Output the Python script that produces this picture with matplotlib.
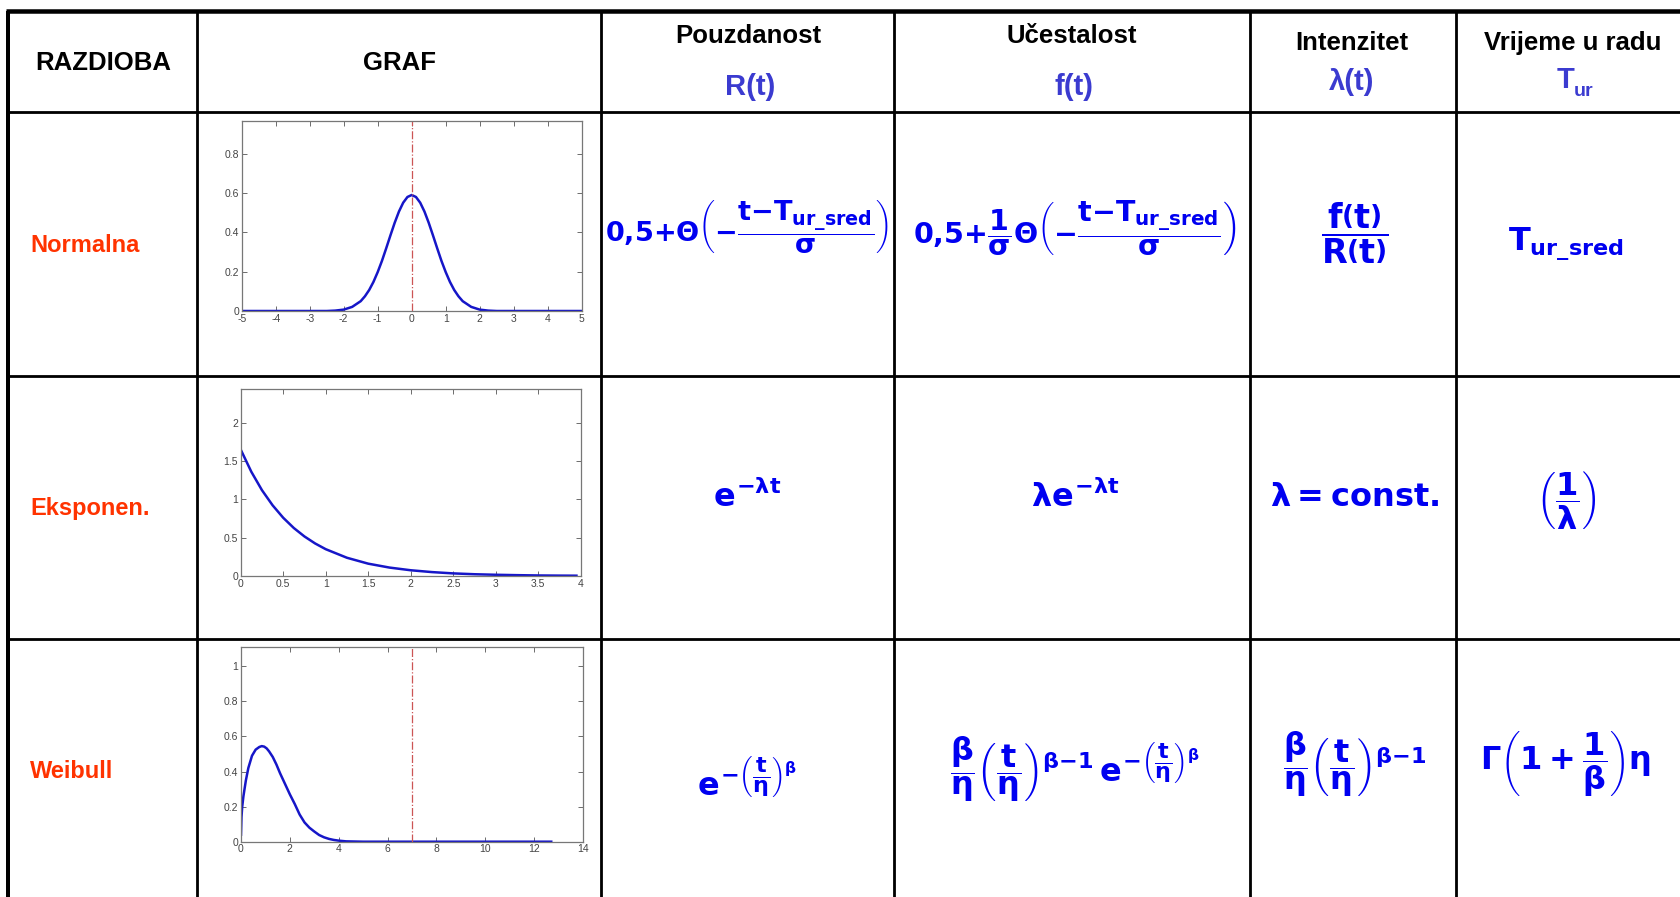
import matplotlib
matplotlib.use("Agg")
import matplotlib.pyplot as plt

plt.rcParams["mathtext.fontset"] = "custom"
plt.rcParams["mathtext.rm"] = "DejaVu Sans:bold"
plt.rcParams["mathtext.it"] = "DejaVu Sans:bold"
plt.rcParams["mathtext.bf"] = "DejaVu Sans:bold"
plt.rcParams["mathtext.sf"] = "DejaVu Sans:bold"

W, H = 1680, 897

# ---- table content -------------------------------------------------------
header_titles = ["RAZDIOBA", "GRAF", "Pouzdanost", "Učestalost", "Intenzitet", "Vrijeme u radu"]
header_symbols = ["R(t)", "f(t)", "λ(t)"]
row_labels = ["Normalna", "Eksponen.", "Weibull"]

formulas = [
    [r"$0{,}5{+}\Theta\left({-}\dfrac{t{-}T_{ur\_sred}}{\sigma}\right)$",
     r"$0{,}5{+}\dfrac{1}{\sigma}\Theta\left({-}\dfrac{t{-}T_{ur\_sred}}{\sigma}\right)$",
     r"$\dfrac{f\left(t\right)}{R\left(t\right)}$",
     r"$T_{ur\_sred}$"],
    [r"$e^{{-}\lambda t}$",
     r"$\lambda e^{{-}\lambda t}$",
     r"$\lambda = \mathrm{const.}$",
     r"$\left(\dfrac{1}{\lambda}\right)$"],
    [r"$e^{{-}\left(\dfrac{t}{\eta}\right)^{\beta}}$",
     r"$\dfrac{\beta}{\eta}\left(\dfrac{t}{\eta}\right)^{\beta{-}1}\,e^{{-}\left(\dfrac{t}{\eta}\right)^{\beta}}$",
     r"$\dfrac{\beta}{\eta}\left(\dfrac{t}{\eta}\right)^{\beta{-}1}$",
     r"$\Gamma\left(1+\dfrac{1}{\beta}\right)\eta$"],
]

# ---- small density plots -------------------------------------------------
normal_t = [-5.0, -3.0, -2.5, -2.25, -2.0, -1.75, -1.5, -1.375, -1.25, -1.125, -1.0,
            -0.875, -0.75, -0.625, -0.5, -0.375, -0.25, -0.125, 0.0, 0.125, 0.25, 0.375,
            0.5, 0.625, 0.75, 0.875, 1.0, 1.125, 1.25, 1.375, 1.5, 1.75, 2.0, 2.25, 2.5,
            3.0, 5.0]
normal_pdf = [0.0, 0.0, 0.0, 0.002, 0.007, 0.021, 0.050, 0.075, 0.107, 0.148, 0.198,
              0.255, 0.319, 0.385, 0.449, 0.506, 0.551, 0.580, 0.590, 0.580, 0.551, 0.506,
              0.449, 0.385, 0.319, 0.255, 0.198, 0.148, 0.107, 0.075, 0.050, 0.021, 0.007,
              0.002, 0.0, 0.0, 0.0]
normal_mean = 0.0

exp_t = [0.0, 0.125, 0.25, 0.375, 0.5, 0.625, 0.75, 0.875, 1.0, 1.25, 1.5, 1.75,
         2.0, 2.25, 2.5, 2.75, 3.0, 3.25, 3.5, 3.75, 3.95]
exp_pdf = [1.65, 1.36, 1.12, 0.923, 0.76, 0.626, 0.516, 0.425, 0.35, 0.238, 0.161, 0.110,
           0.075, 0.051, 0.034, 0.023, 0.016, 0.011, 0.007, 0.005, 0.004]

weibull_t = [0.0, 0.02, 0.05, 0.1, 0.2, 0.3, 0.45, 0.6, 0.75, 0.85, 0.95, 1.05, 1.15,
             1.3, 1.45, 1.6, 1.8, 2.0, 2.2, 2.4, 2.6, 2.8, 3.0, 3.2, 3.4, 3.6, 3.8, 4.0,
             4.3, 5.0, 6.0, 8.0, 10.0, 12.0, 12.7]
weibull_pdf = [0.04, 0.14, 0.20, 0.26, 0.35, 0.42, 0.49, 0.525, 0.54, 0.545, 0.542, 0.532,
               0.515, 0.483, 0.44, 0.39, 0.33, 0.27, 0.215, 0.155, 0.11, 0.08, 0.058, 0.038,
               0.025, 0.016, 0.010, 0.006, 0.002, 0.0, 0.0, 0.0, 0.0, 0.0, 0.0]
weibull_mark = 7.0

normal_xticks = [-5, -4, -3, -2, -1, 0, 1, 2, 3, 4, 5]
normal_yticks = [0, 0.2, 0.4, 0.6, 0.8]
exp_xticks = [0, 0.5, 1, 1.5, 2, 2.5, 3, 3.5, 4]
exp_yticks = [0, 0.5, 1, 1.5, 2]
weibull_xticks = [0, 2, 4, 6, 8, 10, 12, 14]
weibull_yticks = [0, 0.2, 0.4, 0.6, 0.8, 1]

# ---- layout (pixels) -----------------------------------------------------
col_x = [8, 197, 600.5, 894, 1250, 1455.5]
row_y = [11.5, 112, 376, 639]
row_centres = [245, 509, 771]
cell_centres_x = [747, 1075, 1355, 1566]
formula_y = [[228, 228, 233, 244], [497, 497, 497, 500], [780, 769, 764, 764]]
formula_size = [[19.5, 20.5, 24, 23], [23, 23, 23, 23], [23, 23, 23, 23]]

BLUE = "#0000f0"
HEAD_BLUE = "#3b3bd0"
RED = "#ff3300"
PT = 0.72  # points per pixel at 100 dpi

fig = plt.figure(figsize=(W / 100, H / 100), dpi=100)
fig.patch.set_facecolor("white")
base = fig.add_axes([0, 0, 1, 1])
base.set_xlim(0, W)
base.set_ylim(H, 0)
base.axis("off")

# table grid
base.plot([6, W], [row_y[0], row_y[0]], color="black", lw=4.5 * PT, solid_capstyle="butt")
base.plot([col_x[0], col_x[0]], [row_y[0], H], color="black", lw=4 * PT, solid_capstyle="butt")
for x in col_x[1:]:
    base.plot([x, x], [row_y[0], H], color="black", lw=2.8 * PT, solid_capstyle="butt")
for y in row_y[1:]:
    base.plot([col_x[0], W], [y, y], color="black", lw=2.8 * PT, solid_capstyle="butt")

head_font = dict(family="Liberation Sans", weight="bold", ha="center", va="center")
base.text(103, 63, header_titles[0], fontsize=18.5, **head_font)
base.text(400, 63, header_titles[1], fontsize=18.5, **head_font)
base.text(748, 36, header_titles[2], fontsize=18.5, **head_font)
base.text(1072, 36, header_titles[3], fontsize=18.5, **head_font)
base.text(1352, 43, header_titles[4], fontsize=18.5, **head_font)
base.text(1573, 43, header_titles[5], fontsize=18.5, **head_font)
base.text(750, 87, header_symbols[0], fontsize=21, color=HEAD_BLUE, **head_font)
base.text(1074, 87, header_symbols[1], fontsize=21, color=HEAD_BLUE, **head_font)
base.text(1352, 82, header_symbols[2], fontsize=21, color=HEAD_BLUE, **head_font)
base.text(1566, 80, "T", fontsize=21, color=HEAD_BLUE, **head_font)
base.text(1584, 91, "ur", fontsize=14, color=HEAD_BLUE, **head_font)

for label, y in zip(row_labels, row_centres):
    base.text(30, y, label, fontsize=17, color=RED, family="Liberation Sans",
              weight="bold", ha="left", va="center")

for r, row in enumerate(formulas):
    for c, f in enumerate(row):
        base.text(cell_centres_x[c], formula_y[r][c], f, fontsize=formula_size[r][c],
                  color=BLUE, ha="center", va="center")


def inset(left, top, right, bottom):
    return fig.add_axes([left / W, 1 - bottom / H, (right - left) / W, (bottom - top) / H])


def style(ax, xt, yt):
    ax.set_xticks(xt)
    ax.set_yticks(yt)
    ax.set_xticklabels([f"{v:g}" for v in xt])
    ax.set_yticklabels([f"{v:g}" for v in yt])
    ax.tick_params(direction="in", length=3.5, width=0.6, color="#555555",
                   labelsize=7.5, labelcolor="#444444", top=True, right=True, pad=2)
    for lab in ax.get_xticklabels() + ax.get_yticklabels():
        lab.set_family("Liberation Sans")
    for s in ax.spines.values():
        s.set_color("#777777")
        s.set_linewidth(0.9)


LINE = "#1616c8"
MARK = "#cc5555"

ax1 = inset(241.7, 120.7, 581.7, 311)
ax1.plot(normal_t, normal_pdf, color=LINE, lw=1.8)
ax1.axvline(normal_mean, color=MARK, lw=0.9, ls="-.")
ax1.set_xlim(-5, 5)
ax1.set_ylim(0, 0.968)
style(ax1, normal_xticks, normal_yticks)

ax2 = inset(240.7, 389, 580.7, 576)
ax2.plot(exp_t, exp_pdf, color=LINE, lw=1.8)
ax2.set_xlim(0, 4)
ax2.set_ylim(0, 2.44)
style(ax2, exp_xticks, exp_yticks)

ax3 = inset(241, 647, 583, 841.7)
ax3.plot(weibull_t, weibull_pdf, color=LINE, lw=1.8)
ax3.axvline(weibull_mark, color=MARK, lw=0.9, ls="-.")
ax3.set_xlim(0, 14)
ax3.set_ylim(0, 1.11)
style(ax3, weibull_xticks, weibull_yticks)

fig.savefig("out.png", dpi=100, facecolor="white")
